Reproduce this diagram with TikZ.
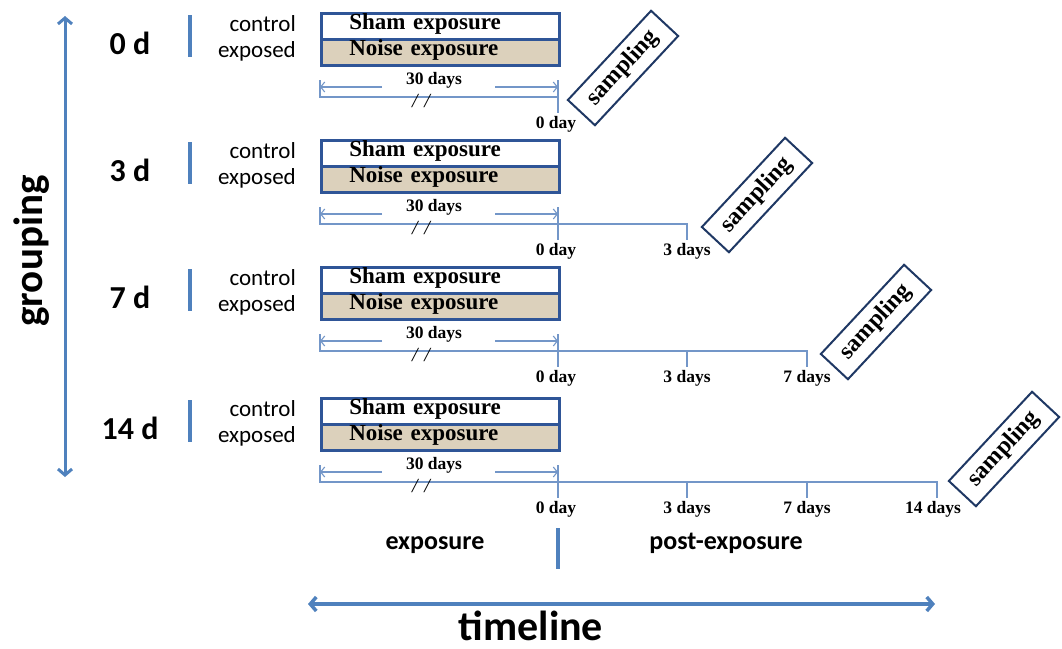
\documentclass[tikz,border=0pt]{standalone}
\usepackage{fontspec}
\setmainfont{Liberation Serif}
\setsansfont{Carlito}
\usetikzlibrary{arrows.meta, positioning}
\definecolor{lineblue}{HTML}{4F81BD}
\definecolor{thinblue}{HTML}{7396C8}
\definecolor{boxblue}{HTML}{2F5597}
\definecolor{navy}{HTML}{1F3864}
\definecolor{noisefill}{HTML}{DCD1BC}
\newcommand{\px}[1]{\fontsize{#1}{#1}\selectfont}

\begin{document}
\begin{tikzpicture}[
    x=1pt, y=-1pt,
    every node/.style={inner sep=0pt},
    grplabel/.style={font=\sffamily\bfseries\px{32}},
    cond/.style={font=\sffamily\px{23}, anchor=east},
    axlabel/.style={font=\sffamily\bfseries\px{26}},
    shambox/.style={rectangle, draw=boxblue, line width=2.5pt, fill=white, minimum width=238pt, minimum height=26pt, anchor=north west, inner xsep=28pt, text width=182pt, align=left, text height=15pt, text depth=8pt, font=\bfseries\px{23}},
    noisebox/.style={shambox, fill=noisefill},
    dayfont/.style={font=\bfseries\px{17.5}},
    brk/.style={font=\itshape\px{20}},
    sampbox/.style={rectangle, draw=navy, line width=2pt, fill=white, rotate=47, minimum width=122pt, minimum height=37pt, font=\bfseries\px{24}},
    bar/.style={draw=lineblue, line width=4pt},
    tl/.style={draw=thinblue, line width=1.1pt},
    dim/.style={tl, -{Straight Barb[length=4pt, width=10pt]}},
    bigarrow/.style={draw=lineblue, line width=3pt, {Straight Barb[length=6pt, width=14pt]}-{Straight Barb[length=6pt, width=14pt]}}
]
\useasboundingbox (0,0) rectangle (1062,648);

% --- grouping axis ---
\coordinate (gtop) at (65,16);
\coordinate (gbot) at (65,477);
\draw[bigarrow] (gbot) -- (gtop);
\node[font=\sffamily\bfseries\px{41}, rotate=90] (grouping) at (32,251) {grouping};

% --- 0 d group ---
\node[grplabel] (g0) at (130,43) {0 d};
\coordinate (bt0) at (190,15); \coordinate (bb0) at (190,57);
\draw[bar] (bt0) -- (bb0);
\node[cond] (c0) at (296,24) {control};
\node[cond] (e0) at (296,51) {exposed};
\node[shambox] (sh0) at (320,12) {Sham exposure};
\node[noisebox] (no0) at (320,38) {Noise exposure};
\node[dayfont] (d0) at (434,80) {30 days};
\coordinate (s0) at (320,97); \coordinate (z0) at (558,97);
\coordinate (la0) at (382,87); \coordinate (ra0) at (495,87);
\draw[tl] ([yshift=17pt]s0) -- (s0) -- (z0);
\draw[tl] ([yshift=17pt]z0) -- ([yshift=-16pt]z0);
\draw[dim] (la0) -- (la0 -| s0);
\draw[dim] (ra0) -- (ra0 -| z0);
\node[brk] (k0) at (421,101) {/\,\,/};
\node[dayfont] (t00) at (556,124) {0 day};
\node[sampbox] (sp0) at (623,68) {sampling};

% --- 3 d group ---
\node[grplabel] (g1) at (130,170) {3 d};
\coordinate (bt1) at (190,142); \coordinate (bb1) at (190,184);
\draw[bar] (bt1) -- (bb1);
\node[cond] (c1) at (296,151) {control};
\node[cond] (e1) at (296,178) {exposed};
\node[shambox] (sh1) at (320,139) {Sham exposure};
\node[noisebox] (no1) at (320,165) {Noise exposure};
\node[dayfont] (d1) at (434,207) {30 days};
\coordinate (s1) at (320,224); \coordinate (z1) at (558,224); \coordinate (p13) at (687,224);
\coordinate (la1) at (382,214); \coordinate (ra1) at (495,214);
\draw[tl] ([yshift=17pt]s1) -- (s1) -- (p13) -- ([yshift=-16pt]p13);
\draw[tl] ([yshift=17pt]z1) -- ([yshift=-16pt]z1);
\draw[dim] (la1) -- (la1 -| s1);
\draw[dim] (ra1) -- (ra1 -| z1);
\node[brk] (k1) at (421,228) {/\,\,/};
\node[dayfont] (t10) at (556,251) {0 day};
\node[dayfont] (t13) at (687,251) {3 days};
\node[sampbox] (sp1) at (757,195) {sampling};

% --- 7 d group ---
\node[grplabel] (g2) at (130,297) {7 d};
\coordinate (bt2) at (190,269); \coordinate (bb2) at (190,311);
\draw[bar] (bt2) -- (bb2);
\node[cond] (c2) at (296,278) {control};
\node[cond] (e2) at (296,305) {exposed};
\node[shambox] (sh2) at (320,266) {Sham exposure};
\node[noisebox] (no2) at (320,292) {Noise exposure};
\node[dayfont] (d2) at (434,334) {30 days};
\coordinate (s2) at (320,351); \coordinate (z2) at (558,351);
\coordinate (p23) at (687,351); \coordinate (p27) at (807,351);
\coordinate (la2) at (382,341); \coordinate (ra2) at (495,341);
\draw[tl] ([yshift=17pt]s2) -- (s2) -- (p27) -- ([yshift=-16pt]p27);
\draw[tl] ([yshift=17pt]z2) -- ([yshift=-16pt]z2);
\draw[tl] (p23) -- ([yshift=-16pt]p23);
\draw[dim] (la2) -- (la2 -| s2);
\draw[dim] (ra2) -- (ra2 -| z2);
\node[brk] (k2) at (421,355) {/\,\,/};
\node[dayfont] (t20) at (556,378) {0 day};
\node[dayfont] (t23) at (687,378) {3 days};
\node[dayfont] (t27) at (807,378) {7 days};
\node[sampbox] (sp2) at (876,322) {sampling};

% --- 14 d group ---
\node[grplabel] (g3) at (130,428) {14 d};
\coordinate (bt3) at (190,400); \coordinate (bb3) at (190,442);
\draw[bar] (bt3) -- (bb3);
\node[cond] (c3) at (296,409) {control};
\node[cond] (e3) at (296,436) {exposed};
\node[shambox] (sh3) at (320,397) {Sham exposure};
\node[noisebox] (no3) at (320,423) {Noise exposure};
\node[dayfont] (d3) at (434,465) {30 days};
\coordinate (s3) at (320,482); \coordinate (z3) at (558,482);
\coordinate (p33) at (687,482); \coordinate (p37) at (807,482); \coordinate (p314) at (937,482);
\coordinate (la3) at (382,472); \coordinate (ra3) at (495,472);
\draw[tl] ([yshift=17pt]s3) -- (s3) -- (p314) -- ([yshift=-16pt]p314);
\draw[tl] ([yshift=17pt]z3) -- ([yshift=-16pt]z3);
\draw[tl] (p33) -- ([yshift=-16pt]p33);
\draw[tl] (p37) -- ([yshift=-16pt]p37);
\draw[dim] (la3) -- (la3 -| s3);
\draw[dim] (ra3) -- (ra3 -| z3);
\node[brk] (k3) at (421,486) {/\,\,/};
\node[dayfont] (t30) at (556,509) {0 day};
\node[dayfont] (t33) at (687,509) {3 days};
\node[dayfont] (t37) at (807,509) {7 days};
\node[dayfont] (t314) at (933,509) {14 days};
\node[sampbox] (sp3) at (1004,449) {sampling};

% --- timeline axis ---
\node[axlabel] (expo) at (435,545) {exposure};
\node[axlabel] (post) at (726,543) {post-exposure};
\coordinate (mt) at (558,528); \coordinate (mb) at (558,569);
\draw[bar] (mt) -- (mb);
\coordinate (tl) at (308,604); \coordinate (tr) at (935,604);
\draw[bigarrow, line width=3.5pt] (tl) -- (tr);
\node[font=\sffamily\bfseries\px{42}] (timeline) at (531,626) {timeline};
\end{tikzpicture}
\end{document}
